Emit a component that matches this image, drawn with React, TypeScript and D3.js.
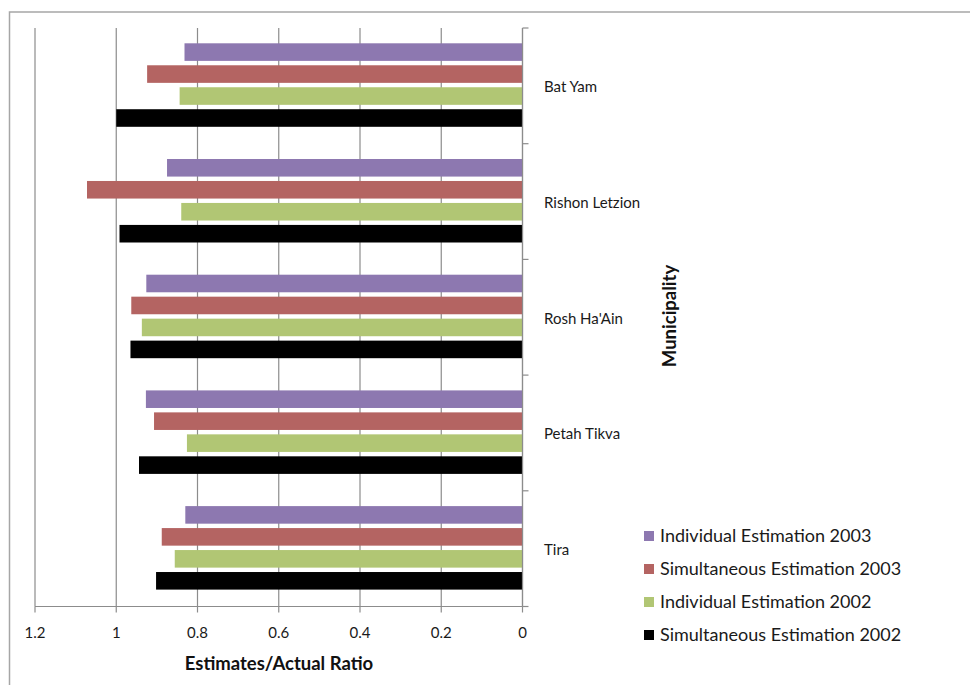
import React from "react";
import * as d3 from "d3";

const municipalities = ["Bat Yam", "Rishon Letzion", "Rosh Ha'Ain", "Petah Tikva", "Tira"];
const seriesNames = [
  "Individual Estimation 2003",
  "Simultaneous Estimation 2003",
  "Individual Estimation 2002",
  "Simultaneous Estimation 2002",
];
const individual2003 = [0.832, 0.875, 0.926, 0.927, 0.83];
const simultaneous2003 = [0.924, 1.072, 0.963, 0.907, 0.888];
const individual2002 = [0.844, 0.84, 0.937, 0.826, 0.856];
const simultaneous2002 = [1.0, 0.992, 0.965, 0.944, 0.902];
const xTicks = [1.2, 1, 0.8, 0.6, 0.4, 0.2, 0];
const seriesColors = ["#8D78B0", "#B46462", "#B1C674", "#000000"];

const W = 970;
const H = 685;
const plot = { left: 35, right: 522.5, top: 28, bottom: 606.5 };
const font = "Lato, 'Open Sans', sans-serif";

export default function App() {
  const series = [individual2003, simultaneous2003, individual2002, simultaneous2002];

  const x = d3.scaleLinear().domain([1.2, 0]).range([plot.left, plot.right]);
  const y = d3.scaleBand<string>().domain(municipalities).range([plot.top, plot.bottom]);
  const inner = d3
    .scaleBand<number>()
    .domain(d3.range(series.length))
    .range([15.3, y.bandwidth() - 16.9])
    .paddingInner(0.2)
    .paddingOuter(0);

  const gridColor = "#8c8c8c";

  return (
    <svg
      width={W}
      height={H}
      style={{ position: "absolute", left: 0, top: 0, background: "#fff" }}
      fontFamily={font}
    >
      {/* outer frame */}
      <path d={`M9.5,${H} V12 H${W}`} fill="none" stroke="#a6a6a6" strokeWidth={1.5} />

      {/* vertical gridlines */}
      {xTicks.map((t) => (
        <line key={`g${t}`} x1={x(t)} x2={x(t)} y1={plot.top} y2={plot.bottom} stroke={gridColor} strokeWidth={1.2} />
      ))}

      {/* bars */}
      {municipalities.map((m, i) => (
        <g key={m} transform={`translate(0,${y(m)})`}>
          {series.map((vals, s) => (
            <rect
              key={s}
              x={x(vals[i])}
              y={inner(s)}
              width={x(0) - x(vals[i])}
              height={inner.bandwidth()}
              fill={seriesColors[s]}
            />
          ))}
        </g>
      ))}

      {/* bottom value axis */}
      <line x1={plot.left} x2={plot.right} y1={plot.bottom} y2={plot.bottom} stroke={gridColor} strokeWidth={1.2} />
      {xTicks.map((t) => (
        <g key={`t${t}`}>
          <line x1={x(t)} x2={x(t)} y1={plot.bottom} y2={plot.bottom + 6} stroke={gridColor} strokeWidth={1.2} />
          <text x={x(t)} y={plot.bottom + 31} textAnchor="middle" fontSize={15} fill="#1a1a1a">
            {String(t)}
          </text>
        </g>
      ))}
      <text x={279} y={670} textAnchor="middle" fontSize={18.5} fontWeight="bold" fill="#111">
        Estimates/Actual Ratio
      </text>

      {/* category axis on the right */}
      <line x1={plot.right} x2={plot.right} y1={plot.top} y2={plot.bottom} stroke={gridColor} strokeWidth={1.2} />
      {[...municipalities.map((m) => y(m) as number), plot.bottom].map((v, i) => (
        <line key={`c${i}`} x1={plot.right} x2={plot.right + 6} y1={v} y2={v} stroke={gridColor} strokeWidth={1.2} />
      ))}
      {municipalities.map((m) => (
        <text
          key={`l${m}`}
          x={544}
          y={(y(m) as number) + y.bandwidth() / 2 + 1}
          dy="0.35em"
          fontSize={15}
          fill="#1a1a1a"
        >
          {m}
        </text>
      ))}
      <text
        transform={`translate(676,316) rotate(-90)`}
        textAnchor="middle"
        fontSize={18.5}
        fontWeight="bold"
        fill="#111"
      >
        Municipality
      </text>

      {/* legend */}
      {seriesNames.map((name, s) => (
        <g key={name} transform={`translate(644,${536 + s * 33})`}>
          <rect x={0} y={-5} width={10} height={10} fill={seriesColors[s]} />
          <text x={16} y={0} dy="0.35em" fontSize={18} fill="#1a1a1a">
            {name}
          </text>
        </g>
      ))}
    </svg>
  );
}
